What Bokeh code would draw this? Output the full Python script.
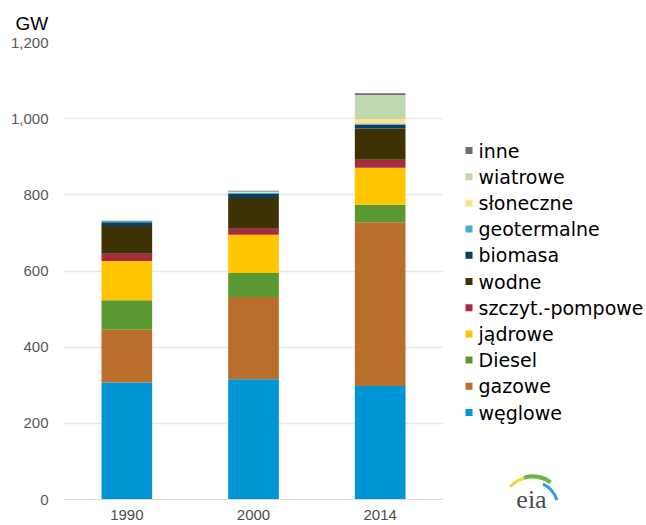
from bokeh.plotting import figure
from bokeh.layouts import row
from bokeh.models import (SingleIntervalTicker, NumeralTickFormatter, Range1d,
                          FactorRange, ColumnDataSource)
from bokeh.core.properties import value
from bokeh.embed import file_html
from bokeh.resources import INLINE

# ---- data (GW) ----
years = ["1990", "2000", "2014"]
weglowe = [307, 316, 298]
gazowe = [139, 216, 430]
diesel = [77, 63, 46]
jadrowe = [103, 100, 97]
pompowe = [19, 16, 21]
wodne = [73, 81, 82]
biomasa = [10, 10, 10]
geotermalne = [3, 3, 3]
sloneczne = [0, 1, 12]
wiatrowe = [2, 3, 63]
inne = [0, 2, 5]

series_keys = ["weglowe", "gazowe", "diesel", "jadrowe", "pompowe", "wodne",
               "biomasa", "geotermalne", "sloneczne", "wiatrowe", "inne"]
series_labels = ["węglowe", "gazowe", "Diesel", "jądrowe", "szczyt.-pompowe",
                 "wodne", "biomasa", "geotermalne", "słoneczne", "wiatrowe", "inne"]
series_colors = ["#0096D6", "#BA6E2B", "#5A9832", "#FFC600", "#A72A3D",
                 "#3E3205", "#0B3F5E", "#4AA8D8", "#FFE38A", "#BFD8B0", "#6E6E6E"]

source = dict(years=years, weglowe=weglowe, gazowe=gazowe, diesel=diesel,
              jadrowe=jadrowe, pompowe=pompowe, wodne=wodne, biomasa=biomasa,
              geotermalne=geotermalne, sloneczne=sloneczne, wiatrowe=wiatrowe,
              inne=inne)

# ---------------- main chart ----------------
p1 = figure(x_range=FactorRange(factors=years), y_range=Range1d(0, 1200),
            width=443, height=525, output_backend="svg", toolbar_location=None,
            min_border_left=63, min_border_right=0, min_border_top=42,
            min_border_bottom=26)
p1.frame_align = False

p1.vbar_stack(series_keys, x="years", width=0.4, color=series_colors,
              source=source, line_color=None)

p1.title.text = "GW"
p1.title.text_font = "Liberation Sans"
p1.title.text_font_size = "19px"
p1.title.text_font_style = "normal"
p1.title.align = "left"
p1.title.offset = -48
p1.title.standoff = 17
p1.title.text_color = "#000000"

p1.yaxis.ticker = SingleIntervalTicker(interval=200, num_minor_ticks=0)
p1.yaxis.formatter = NumeralTickFormatter(format="0,0")
p1.yaxis.axis_line_color = None
p1.yaxis.major_tick_line_color = None
p1.yaxis.major_tick_out = 0
p1.yaxis.minor_tick_line_color = None
p1.yaxis.major_label_text_font = "Liberation Sans"
p1.yaxis.major_label_text_font_size = "15px"
p1.yaxis.major_label_text_color = "#595959"
p1.yaxis.major_label_standoff = 15

p1.xaxis.axis_line_color = "#d9d9d9"
p1.xaxis.axis_line_width = 1
p1.xaxis.major_tick_line_color = None
p1.xaxis.major_tick_out = 0
p1.xaxis.minor_tick_line_color = None
p1.xaxis.major_label_text_font = "Liberation Sans"
p1.xaxis.major_label_text_font_size = "15px"
p1.xaxis.major_label_text_color = "#4d4d4d"
p1.xaxis.major_label_standoff = 10

p1.xgrid.grid_line_color = None
p1.ygrid.grid_line_color = "#e8e8e8"
p1.ygrid.grid_line_width = 1.5
p1.outline_line_color = None

# ---------------- legend + logo panel ----------------
W2, H2 = 203, 525
p2 = figure(width=W2, height=H2, x_range=Range1d(0, W2), y_range=Range1d(0, H2),
            output_backend="svg", toolbar_location=None,
            x_axis_location=None, y_axis_location=None,
            min_border_left=0, min_border_right=0, min_border_top=0,
            min_border_bottom=0)
p2.frame_align = False
p2.grid.visible = False
p2.outline_line_color = None

n = len(series_labels)
leg_top, leg_step = 375.0, 26.2
leg_y = [leg_top - leg_step * i for i in range(n)]
leg = ColumnDataSource(dict(
    y=leg_y,
    label=series_labels[::-1],
    color=series_colors[::-1],
))
p2.rect(x=25.5, y="y", width=7, height=7, fill_color="color", line_color=None,
        source=leg)
p2.text(x=35, y="y", text="label", source=leg, text_font=value("DejaVu Sans"),
        text_font_size="19px", text_baseline="middle", text_color="#000000")

# eia logo
cx, cy = 89, 18
p2.annular_wedge(x=cx, y=cy, inner_radius=29, outer_radius=32, start_angle=1.75,
                 end_angle=2.4, color="#F2D33A", line_color=None)
p2.annular_wedge(x=cx, y=cy, inner_radius=29, outer_radius=33, start_angle=0.95,
                 end_angle=1.85, color="#6BB644", line_color=None)
p2.annular_wedge(x=cx, y=cy, inner_radius=24, outer_radius=27, start_angle=0.3,
                 end_angle=1.15, color="#2E9FD8", line_color=None)
p2.text(x=[88], y=[26], text=["eia"], text_font=value("Liberation Serif"),
        text_font_size="26px", text_align="center", text_baseline="alphabetic",
        text_color="#4a4a4a")

p = row(p1, p2)
open("out.html", "w").write(file_html(p, INLINE))
